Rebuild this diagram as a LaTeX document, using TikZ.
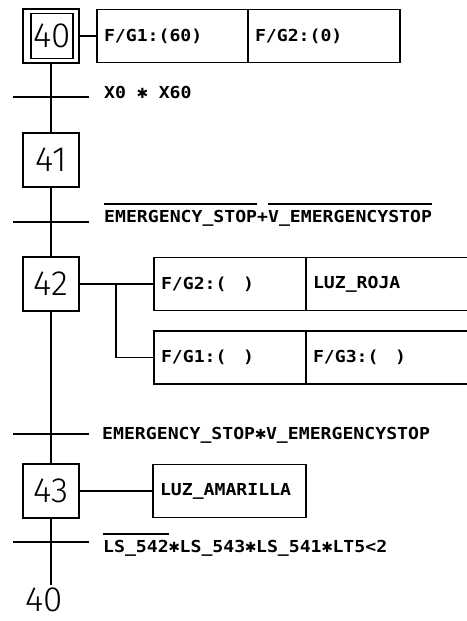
\documentclass[tikz,border=0pt]{standalone}
\usepackage{fontspec}
\usetikzlibrary{positioning}
\newfontfamily\cadfont{DejaVu Sans Mono}[FakeStretch=1.1]
\newfontfamily\symfont{DejaVu Sans}
\newfontfamily\stepfont{Fira Sans}[UprightFont=* Light]
\newcommand\condfont{\cadfont\bfseries\fontsize{16.5}{18}\selectfont}
\newcommand\stepnum{\stepfont\fontsize{35}{36}\selectfont}
\newcommand\tms{\makebox[0.66em]{\symfont\fontsize{14}{14}\selectfont ✱}}
\newcommand\ovl[1]{\setbox0\hbox{#1}\rlap{\rule[17.5pt]{\wd0}{1.2pt}}\box0}
\tikzset{
    stepbox/.style={rectangle, draw, line width=1.3pt, inner sep=0pt, minimum width=56pt, minimum height=54pt, font=\stepnum},
    actbox/.style={rectangle, draw, line width=1.8pt, outer sep=0pt, inner xsep=7pt, inner ysep=0pt, minimum height=53pt, align=left, font=\condfont, anchor=west},
    cond/.style={inner sep=0pt, font=\condfont, anchor=base west},
    link/.style={line width=1.5pt},
    trans/.style={line width=1.5pt}
}
\begin{document}
\begin{tikzpicture}[x=1pt, y=-1pt]
    \useasboundingbox (0,0) rectangle (466,621);
    % steps
    \node[stepbox] (s40) at (51,36) {};
    \node[stepbox, minimum width=42pt, minimum height=45pt] (s40in) at (52,36) {40};
    \node[stepbox] (s41) at (51,160) {41};
    \node[stepbox] (s42) at (51,284) {42};
    \node[stepbox] (s43) at (51,491) {43};
    \coordinate (e40) at (51,585);
    \node[font=\stepnum, inner sep=0pt, text height=25pt, text depth=0pt, anchor=base] (n40) at (44,611) {40};
    % transitions
    \coordinate (t1) at (51,97);
    \coordinate (t2) at (51,222);
    \coordinate (t3) at (51,434);
    \coordinate (t4) at (51,542);
    \node[cond] (c1) at (104,98) {X0 \tms{} X60};
    \node[cond] (c2) at (104,222) {\ovl{EMERGENCY\_STOP}+\ovl{V\_EMERGENCYSTOP}};
    \node[cond] (c3) at (102,439) {EMERGENCY\_STOP\tms{}V\_EMERGENCYSTOP};
    \node[cond] (c4) at (103,552) {\ovl{LS\_542}\tms{}LS\_543\tms{}LS\_541\tms{}LT5<2};
    % actions
    \node[actbox, text width=137pt] (a40a) at (97,36) {F/G1:(60)};
    \node[actbox, text width=138pt] (a40b) at (a40a.east) {F/G2:(0)};
    \node[actbox, text width=138pt] (a42a) at (154,284) {F/G2:(\ \ \ )};
    \node[actbox, text width=150pt] (a42b) at (a42a.east) {LUZ\_ROJA};
    \node[actbox, text width=138pt] (a42c) at (154,357.5) {F/G1:(\ \ \ )};
    \node[actbox, text width=150pt] (a42d) at (a42c.east) {F/G3:(\ \ \ )};
    \node[actbox, text width=139pt] (a43) at (153,491) {LUZ\_AMARILLA};
    \coordinate (br) at (116,284);
    % links
    \draw[link] (s40) -- (s41);
    \draw[link] (s41) -- (s42);
    \draw[link] (s42) -- (s43);
    \draw[link] (s43) -- (e40);
    \draw[link] (s40) -- (a40a);
    \draw[link] (s42) -- (a42a);
    \draw[link] (br) |- (a42c);
    \draw[link] (s43) -- (a43);
    \foreach \t in {t1,t2,t3,t4}
        \draw[trans] ([xshift=-38pt]\t) -- ([xshift=38pt]\t);
\end{tikzpicture}
\end{document}
